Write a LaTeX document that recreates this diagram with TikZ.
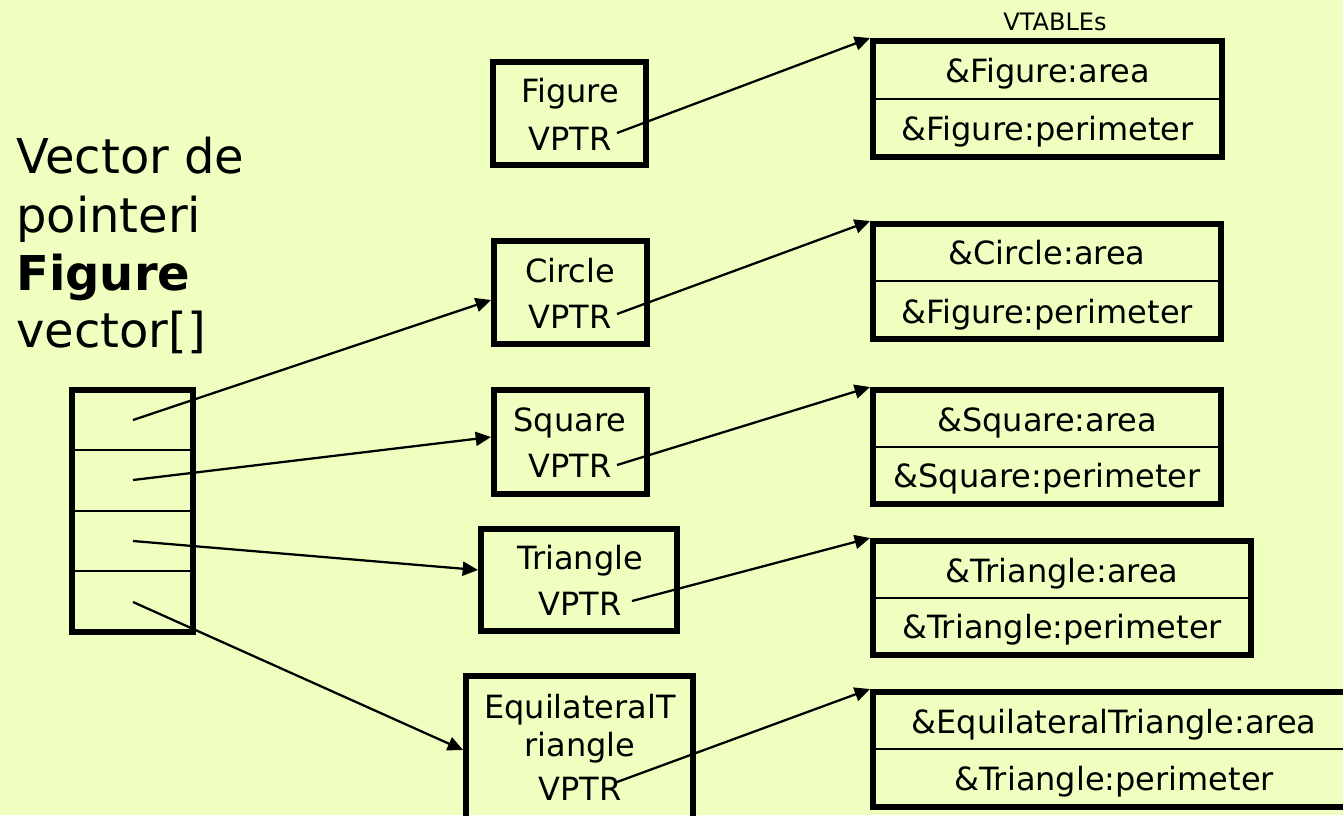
\documentclass[tikz,border=0pt]{standalone}
\usepackage{fontspec}
\setmainfont{DejaVu Sans}
\usetikzlibrary{arrows.meta}
\definecolor{bg}{RGB}{238,255,192}
\begin{document}
\begin{tikzpicture}[x=0.75pt,y=-0.75pt,
  thickbox/.style={draw=black, line width=4.5pt, inner sep=0pt},
  divline/.style={line width=2.2pt},
  ptr/.style={line width=1.7pt, -{Triangle[length=11.5pt,width=10.5pt]}},
  boxtxt/.style={inner sep=0pt, anchor=base, font=\fontsize{24}{28}\selectfont},
  lefttxt/.style={inner sep=0pt, anchor=base west, font=\fontsize{36}{43}\selectfont},
  smalltxt/.style={inner sep=0pt, anchor=base, font=\fontsize{18}{21}\selectfont}]
\fill[bg, use as bounding box] (0,0) rectangle (1343,815);
\clip (0,0) rectangle (1343,815);

% left caption
\node[lefttxt] (l1) at (16,173) {Vector de};
\node[lefttxt] (l2) at (16,232) {pointeri};
\node[lefttxt] (l3) at (16,290) {\bfseries Figure};
\node[lefttxt] (l4) at (16,347) {vector[]};

% vector array
\node[thickbox, minimum width=90.75pt, minimum height=181.5pt] (arr) at (132.5,511) {};
\draw[divline] (arr.west |- 0,450) -- (arr.east |- 0,450);
\draw[divline] (arr.west |- 0,511) -- (arr.east |- 0,511);
\draw[divline] (arr.west |- 0,571) -- (arr.east |- 0,571);
\coordinate (s1) at (133,420);
\coordinate (s2) at (133,480);
\coordinate (s3) at (133,541);
\coordinate (s4) at (133,602);

% class boxes
\node[thickbox, minimum width=114.75pt, minimum height=77.25pt] (cfig) at (569.5,113.5) {};
\node[boxtxt] (cfigname) at (570,102) {Figure};
\node[boxtxt] (cfigv) at (570,150) {VPTR};

\node[thickbox, minimum width=114.75pt, minimum height=77.25pt] (ccir) at (570.5,292.5) {};
\node[boxtxt] (ccirname) at (570,282) {Circle};
\node[boxtxt] (ccirv) at (570,328) {VPTR};

\node[thickbox, minimum width=114.75pt, minimum height=78pt] (csq) at (570.5,442) {};
\node[boxtxt] (csqname) at (570,431) {Square};
\node[boxtxt] (csqv) at (570,477) {VPTR};

\node[thickbox, minimum width=147pt, minimum height=76.5pt] (ctri) at (579,580) {};
\node[boxtxt] (ctriname) at (580,569) {Triangle};
\node[boxtxt] (ctriv) at (580,615) {VPTR};

\node[thickbox, minimum width=170.25pt, minimum height=123pt] (ceq) at (579.5,758) {};
\node[boxtxt] (ceqname1) at (580,718) {EquilateralT};
\node[boxtxt] (ceqname2) at (580,756) {riangle};
\node[boxtxt] (ceqv) at (580,800) {VPTR};

% vtables
\node[smalltxt] (vtlabel) at (1055,30) {VTABLEs};

\node[thickbox, minimum width=261.75pt, minimum height=87pt] (vfig) at (1047.5,99) {};
\draw[divline] (vfig.west) -- (vfig.east);
\node[boxtxt] (vfig1) at (1047.5,82) {\&Figure:area};
\node[boxtxt] (vfig2) at (1047.5,140) {\&Figure:perimeter};

\node[thickbox, minimum width=261pt, minimum height=86.25pt] (vcir) at (1047,281.5) {};
\draw[divline] (vcir.west |- 0,281) -- (vcir.east |- 0,281);
\node[boxtxt] (vcir1) at (1047,264) {\&Circle:area};
\node[boxtxt] (vcir2) at (1047,323) {\&Figure:perimeter};

\node[thickbox, minimum width=261pt, minimum height=85.5pt] (vsq) at (1047,447) {};
\draw[divline] (vsq.west) -- (vsq.east);
\node[boxtxt] (vsq1) at (1047,431) {\&Square:area};
\node[boxtxt] (vsq2) at (1047,487) {\&Square:perimeter};

\node[thickbox, minimum width=283.5pt, minimum height=85.5pt] (vtri) at (1062,598) {};
\draw[divline] (vtri.west) -- (vtri.east);
\node[boxtxt] (vtri1) at (1062,582) {\&Triangle:area};
\node[boxtxt] (vtri2) at (1062,638) {\&Triangle:perimeter};

\node[thickbox, minimum width=363.75pt, minimum height=86.25pt] (veq) at (1115.5,749.5) {};
\draw[divline] (veq.west |- 0,749) -- (veq.east |- 0,749);
\node[boxtxt] (veq1) at (1114,733) {\&EquilateralTriangle:area};
\node[boxtxt] (veq2) at (1114,790) {\&Triangle:perimeter};

% pointers from the vector
\draw[ptr] (s1) -- (ccir.west |- 0,300);
\draw[ptr] (s2) -- (csq.west |- 0,437);
\draw[ptr] (s3) -- (ctri.west |- 0,570);
\draw[ptr] (s4) -- (ceq.west |- 0,750);

% VPTR pointers
\coordinate (p1) at (617,133);
\coordinate (p2) at (617,314);
\coordinate (p3) at (617,465);
\coordinate (p4) at (632,601);
\coordinate (p5) at (617,782);
\draw[ptr] (p1) -- (vfig.north west);
\draw[ptr] (p2) -- (vcir.north west);
\draw[ptr] (p3) -- (vsq.north west);
\draw[ptr] (p4) -- (vtri.north west);
\draw[ptr] (p5) -- (veq.north west);
\end{tikzpicture}
\end{document}
